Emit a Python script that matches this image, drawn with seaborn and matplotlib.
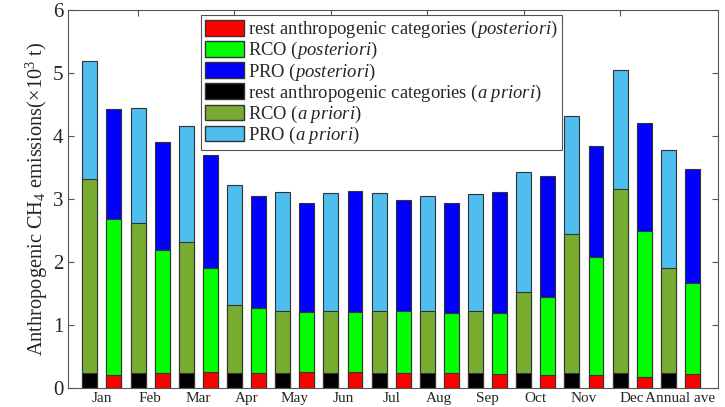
import numpy as np
import pandas as pd
import seaborn as sns
import matplotlib
matplotlib.use('Agg')
import matplotlib.pyplot as plt
from matplotlib.patches import Patch

months = ['Jan', 'Feb', 'Mar', 'Apr', 'May', 'Jun', 'Jul', 'Aug', 'Sep', 'Oct', 'Nov', 'Dec', 'Annual ave']

# a priori components (x10^3 t)
rest_prior = [0.24, 0.24, 0.24, 0.24, 0.24, 0.24, 0.24, 0.24, 0.24, 0.24, 0.24, 0.24, 0.24]
rco_prior = [3.08, 2.37, 2.07, 1.07, 0.98, 0.98, 0.98, 0.98, 0.98, 1.28, 2.20, 2.92, 1.66]
pro_prior = [1.87, 1.83, 1.84, 1.91, 1.89, 1.88, 1.87, 1.83, 1.85, 1.91, 1.87, 1.88, 1.87]

# posteriori components
rest_post = [0.21, 0.23, 0.25, 0.24, 0.25, 0.25, 0.23, 0.23, 0.22, 0.21, 0.21, 0.17, 0.22]
rco_post = [2.47, 1.96, 1.65, 1.02, 0.95, 0.95, 0.99, 0.96, 0.97, 1.23, 1.87, 2.32, 1.45]
pro_post = [1.74, 1.71, 1.80, 1.78, 1.74, 1.93, 1.76, 1.74, 1.92, 1.92, 1.76, 1.71, 1.80]

colors = {
    'rest_prior': '#000000', 'rco_prior': '#77AC30', 'pro_prior': '#4DBEEE',
    'rest_post': '#FF0000', 'rco_post': '#00FF00', 'pro_post': '#0000FF',
}

# build long table: a priori bar then posteriori bar for each month
rows = []
for i, m in enumerate(months):
    rows.append(dict(pos=2 * i + 1, kind='prior', rest=rest_prior[i], rco=rco_prior[i], pro=pro_prior[i]))
    rows.append(dict(pos=2 * i + 2, kind='post', rest=rest_post[i], rco=rco_post[i], pro=pro_post[i]))
df = pd.DataFrame(rows)
df['lvl1'] = df['rest']
df['lvl2'] = df['rest'] + df['rco']
df['lvl3'] = df['rest'] + df['rco'] + df['pro']

sns.set_style('ticks')
plt.rcParams['font.family'] = ['Liberation Serif', 'DejaVu Serif']
plt.rcParams['mathtext.fontset'] = 'custom'
plt.rcParams['mathtext.rm'] = 'Liberation Serif'
plt.rcParams['mathtext.it'] = 'Liberation Serif:italic'

fig = plt.figure(figsize=(7.25, 4.07), dpi=100)
ax = fig.add_axes([0.094, 0.047, 0.896, 0.929])

# stacked bars: draw cumulative totals from the top layer down
layers = [('lvl3', 'pro'), ('lvl2', 'rco'), ('lvl1', 'rest')]
for col, name in layers:
    pal = {'prior': colors[name + '_prior'], 'post': colors[name + '_post']}
    sns.barplot(data=df, x='pos', y=col, hue='kind', palette=pal, native_scale=True,
                dodge=False, width=0.62, errorbar=None, saturation=1, edgecolor='#333333',
                linewidth=0.8, legend=False, ax=ax)

ax.set_xlim(0.1, 27.05)
ax.set_ylim(0, 6)
ax.set_xticks([2 * i + 1.5 for i in range(len(months))])
ax.set_xticklabels(months, fontsize=11)
ax.tick_params(axis='x', length=0, pad=3)
ax.set_yticks(range(7))
ax.set_yticklabels([str(v) for v in range(7)], fontsize=15)
ax.tick_params(axis='y', direction='in', length=4, right=True, color='#555555')
ax.set_xlabel('')
ax.set_ylabel(r'Anthropogenic CH$_4$ emissions($\times$10$^3$ t)', fontsize=14.7, labelpad=2)

top = ax.secondary_xaxis('top')
top.set_xticks([3, 7, 11, 15, 19, 23])
top.set_xticklabels([])
top.tick_params(direction='in', length=4, color='#555555')
top.spines['top'].set_visible(False)

for s in ax.spines.values():
    s.set_visible(True)
    s.set_color('#555555')
    s.set_linewidth(0.8)

handles = [
    Patch(facecolor=colors['rest_post'], edgecolor='#333333', label=r'rest anthropogenic categories ($\it{posteriori}$)'),
    Patch(facecolor=colors['rco_post'], edgecolor='#333333', label=r'RCO ($\it{posteriori}$)'),
    Patch(facecolor=colors['pro_post'], edgecolor='#333333', label=r'PRO ($\it{posteriori}$)'),
    Patch(facecolor=colors['rest_prior'], edgecolor='#333333', label=r'rest anthropogenic categories ($\it{a\ priori}$)'),
    Patch(facecolor=colors['rco_prior'], edgecolor='#333333', label=r'RCO ($\it{a\ priori}$)'),
    Patch(facecolor=colors['pro_prior'], edgecolor='#333333', label=r'PRO ($\it{a\ priori}$)'),
]
leg = ax.legend(handles=handles, loc='upper left', bbox_to_anchor=(0.205, 0.985), fontsize=13.4,
                frameon=True, fancybox=False, edgecolor='#555555', framealpha=1,
                handlelength=2.1, handleheight=0.9, handletextpad=0.2, labelspacing=0.0,
                borderpad=0.2, borderaxespad=0)
leg.get_frame().set_linewidth(0.8)

fig.savefig('out.png', dpi=100)
